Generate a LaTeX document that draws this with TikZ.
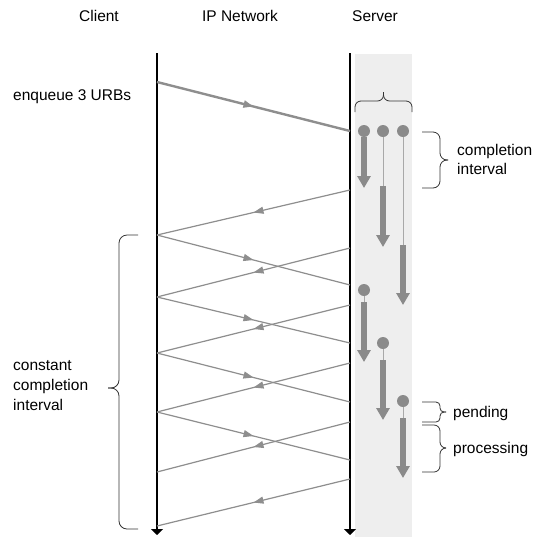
\documentclass[tikz,border=0pt]{standalone}
\usepackage{fontspec}
\setmainfont{Liberation Sans}
\usetikzlibrary{arrows.meta,decorations.markings}
\definecolor{msggray}{HTML}{8E8E8E}
\definecolor{urbgray}{HTML}{8A8A8A}
\definecolor{lanegray}{HTML}{EEEEEE}
\definecolor{waitgray}{HTML}{A8A8A8}
\definecolor{braceink}{HTML}{333333}
\tikzset{
  lbl/.style={font=\fontsize{15.5}{20}\selectfont, inner sep=0pt},
  timeline/.style={line width=2.6pt, -{Triangle[length=6pt,width=12pt]}},
  msg/.style={color=msggray, line width=1.2pt, postaction=decorate,
    decoration={markings, mark=at position 0.5 with {\arrow{Triangle[length=10pt,width=7pt]}}}},
  enq/.style={msg, line width=2.4pt},
  urbdot/.style={circle, fill=urbgray, minimum size=12pt, inner sep=0pt},
  urbrun/.style={color=urbgray, line width=6.5pt, -{Triangle[length=12pt,width=13pt]}},
  urbwait/.style={draw=waitgray, line width=0.9pt},
  bracepath/.style={draw=braceink, line width=0.8pt},
}
\begin{document}
\begin{tikzpicture}[x=1pt,y=-1pt]
  % canvas
  \fill[white] (0,0) rectangle (544,542);
  \useasboundingbox (0,0) rectangle (544,542);

  % server processing lane
  \fill[lanegray] (355,54) rectangle (412,537);

  % column headings
  \node[lbl, anchor=base] (hClient) at (99,21) {Client};
  \node[lbl, anchor=base] (hNet) at (240,21) {IP Network};
  \node[lbl, anchor=base] (hServer) at (375,21) {Server};

  % time lines
  \coordinate (cTop) at (157,53);
  \coordinate (cBot) at (157,535);
  \coordinate (sTop) at (350,53);
  \coordinate (sBot) at (350,535);
  \draw[timeline] (cTop) -- (cBot);
  \draw[timeline] (sTop) -- (sBot);

  % enqueue request
  \node[lbl, anchor=base west] (enqLbl) at (13,100) {enqueue 3 URBs};
  \coordinate (cE) at (157,82);
  \coordinate (sE) at (350,131);
  \draw[enq] (cE) -- (sE);

  % completions sent back to the client
  \foreach \i/\ys/\yc in {1/190/235, 2/248/297, 3/305/353, 4/363/412, 5/422/472, 6/479/526} {
    \coordinate (sOut\i) at (350,\ys);
    \coordinate (cIn\i) at (157,\yc);
    \draw[msg] (sOut\i) -- (cIn\i);
  }
  % resubmitted URBs
  \foreach \i/\yc/\ys in {1/235/285, 2/297/343, 3/353/402, 4/412/460} {
    \coordinate (cOut\i) at (157,\yc);
    \coordinate (sIn\i) at (350,\ys);
    \draw[msg] (cOut\i) -- (sIn\i);
  }

  % URBs on the server: dot = arrival, thin = pending, thick = processing
  \foreach \n/\x/\yd/\ya/\yb in {A/364/131/131/188, B/383/131/186/247, C/403/131/245/305,
                                 D/364/290/302/362, E/383/343/360/420, F/403/401/418/478} {
    \coordinate (run\n) at (\x,\ya);
    \coordinate (end\n) at (\x,\yb);
    \draw[urbwait] (\x,\yd) -- (run\n);
    \node[urbdot] (dot\n) at (\x,\yd) {};
  }
  \draw[urbrun] (dotA) -- (endA);
  \foreach \n in {B,C,D,E,F} {
    \draw[urbrun] (run\n) -- (end\n);
  }

  % brace over the three queued URBs
  \begin{scope}[rounded corners=6pt]
    \draw[bracepath] (355,112) |- (383.5,101) -- (383.5,92);
    \draw[bracepath] (412,112) |- (383.5,101) -- (383.5,92);
  \end{scope}

  % completion interval
  \begin{scope}[rounded corners=7pt]
    \draw[bracepath] (422,132) -| (440,160) -- (448,160);
    \draw[bracepath] (422,188) -| (440,160) -- (448,160);
  \end{scope}
  \node[lbl, anchor=base west] (ciA) at (457,155) {completion};
  \node[lbl, anchor=base west] (ciB) at (457,174) {interval};

  % pending
  \begin{scope}[rounded corners=4pt]
    \draw[bracepath] (422,402) -| (440,412) -- (446,412);
    \draw[bracepath] (422,422) -| (440,412) -- (446,412);
  \end{scope}
  \node[lbl, anchor=base west] (pend) at (453,417) {pending};

  % processing
  \begin{scope}[rounded corners=6pt]
    \draw[bracepath] (422,425) -| (440,448) -- (446,448);
    \draw[bracepath] (422,472) -| (440,448) -- (446,448);
  \end{scope}
  \node[lbl, anchor=base west] (proc) at (453,453) {processing};

  % constant completion interval on the client side
  \begin{scope}[rounded corners=8pt]
    \draw[bracepath] (138,235) -| (119,388) -- (108,388);
    \draw[bracepath] (138,529) -| (119,388) -- (108,388);
  \end{scope}
  \node[lbl, anchor=base west] (cciA) at (13,370) {constant};
  \node[lbl, anchor=base west] (cciB) at (13,390) {completion};
  \node[lbl, anchor=base west] (cciC) at (13,410) {interval};
\end{tikzpicture}
\end{document}
